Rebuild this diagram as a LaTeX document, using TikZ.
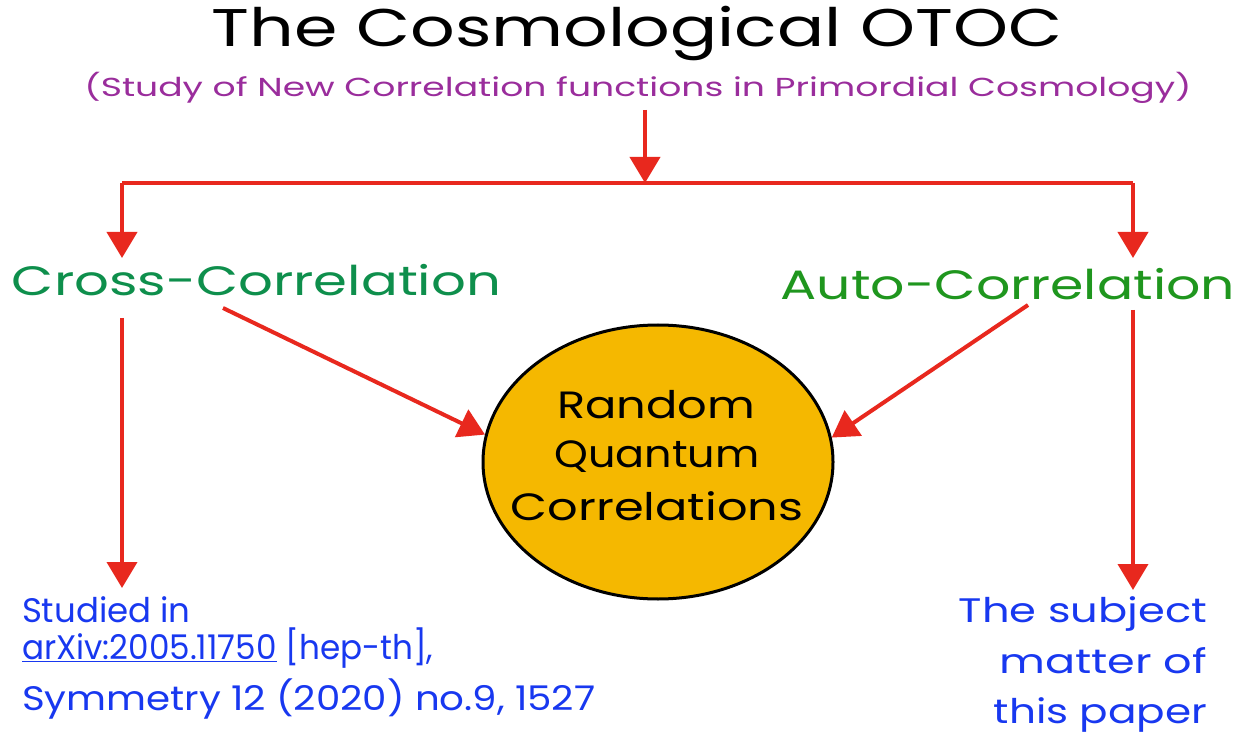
\documentclass[tikz,border=0pt]{standalone}
\usepackage{fontspec}
\setmainfont{Poppins}
\usetikzlibrary{arrows.meta,shapes.geometric}
\definecolor{cred}{HTML}{E8281E}
\definecolor{cpurple}{HTML}{9A2D9C}
\definecolor{cgreen}{HTML}{0E8F4C}
\definecolor{cgreen2}{HTML}{1F961E}
\definecolor{cblue}{HTML}{1838F0}
\definecolor{corange}{HTML}{F5B800}
\tikzset{
  conn/.style={draw=cred, line width=4pt, -{Triangle[width=30pt,length=26pt]}},
  plain/.style={draw=cred, line width=4pt},
  lbl/.style={inner sep=0pt, outer sep=0pt},
}
\newcommand{\fs}[1]{\fontsize{#1}{#1}\selectfont}
\newcommand{\sx}[2]{\scalebox{#1}[1]{#2}}
\begin{document}
\begin{tikzpicture}[x=1pt,y=-1pt]
\useasboundingbox (0,0) rectangle (1256,743);
\fill[white] (0,0) rectangle (1256,743);
% title
\node[lbl, anchor=base] (title) at (637,47) {\fs{53}\sx{1.32}{The Cosmological OTOC}};
\node[lbl, anchor=base, text=cpurple] (sub) at (638,97) {\fs{26}\sx{1.39}{(Study of New Correlation functions in Primordial Cosmology)}};
% categories
\node[lbl, anchor=base west, text=cgreen] (cross) at (12,296) {\fs{41}\sx{1.33}{Cross-Correlation}};
\node[lbl, anchor=base east, text=cgreen2] (auto) at (1235,300) {\fs{41}\sx{1.31}{Auto-Correlation}};
% circle
\node[draw=black, line width=3pt, fill=corange, ellipse, minimum width=350pt, minimum height=274pt, inner sep=0pt] (circ) at (658,462) {};
\node[lbl, anchor=base] (r1) at (656,418) {\fs{38}\sx{1.22}{Random}};
\node[lbl, anchor=base] (r2) at (657,467) {\fs{38}\sx{1.13}{Quantum}};
\node[lbl, anchor=base] (r3) at (657,520) {\fs{38}\sx{1.26}{Correlations}};
% bottom left
\node[lbl, anchor=base west, text=cblue] (bl1) at (22,622) {\fs{34}Studied in};
\node[lbl, anchor=base west, text=cblue] (bl2) at (22,659) {\fs{34}\sx{0.96}{\underline{arXiv:2005.11750} [hep-th],}};
\node[lbl, anchor=base west, text=cblue] (bl3) at (22,710) {\fs{34}\sx{1.14}{Symmetry 12 (2020) no.9, 1527}};
% bottom right
\node[lbl, anchor=base east, text=cblue] (br1) at (1207,622) {\fs{34}\sx{1.27}{The subject}};
\node[lbl, anchor=base east, text=cblue] (br2) at (1207,673) {\fs{34}\sx{1.31}{matter of}};
\node[lbl, anchor=base east, text=cblue] (br3) at (1207,723) {\fs{34}\sx{1.24}{this paper}};
% connectors
\coordinate (s0) at (645,110);
\coordinate (j) at (645,183);
\coordinate (jl) at (122,183);
\coordinate (jr) at (1133,183);
\coordinate (tl) at (122,258);
\coordinate (tr) at (1133,258);
\draw[conn] (s0) -- (j);
\draw[plain] (jl) -- (jr);
\draw[conn] (jl) -- (tl);
\draw[conn] (jr) -- (tr);
\coordinate (cl0) at (122,318);
\coordinate (cl1) at (122,588);
\coordinate (cr0) at (1133,310);
\coordinate (cr1) at (1133,590);
\draw[conn] (cl0) -- (cl1);
\draw[conn] (cr0) -- (cr1);
\coordinate (dl0) at (223,308);
\coordinate (dr0) at (1028,305);
\draw[conn] (dl0) -- (circ.171);
\draw[conn] (dr0) -- (circ.8);
\end{tikzpicture}
\end{document}
